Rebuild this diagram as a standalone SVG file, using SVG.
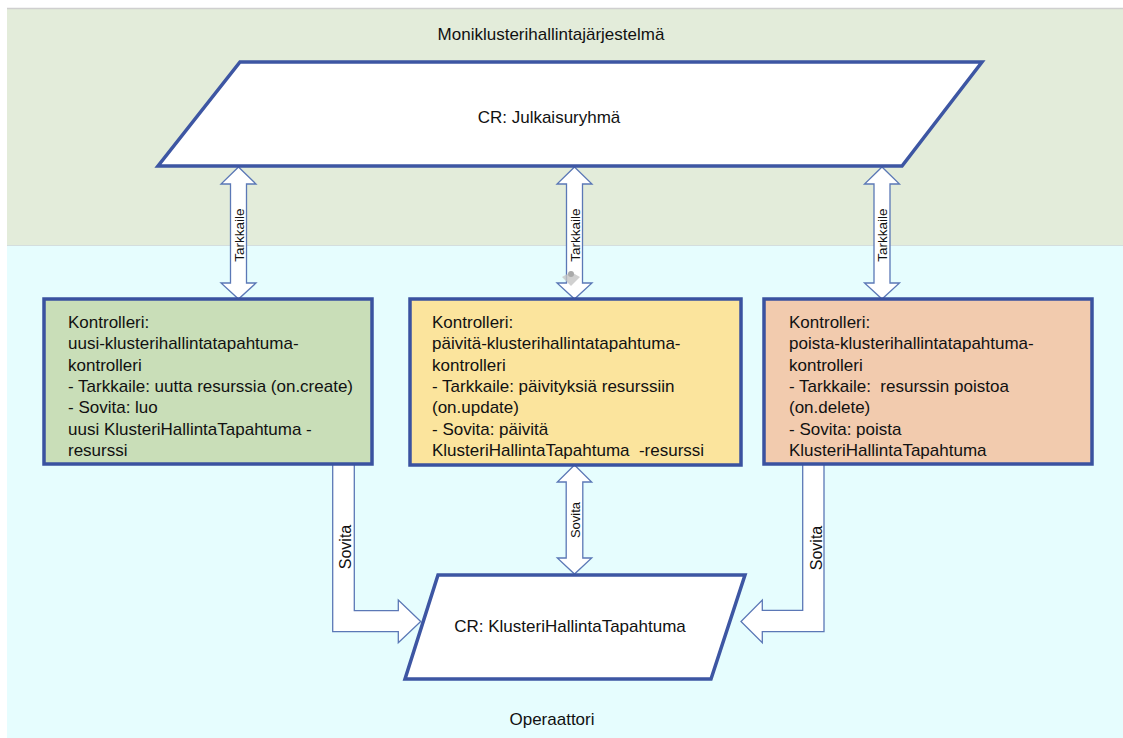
<svg xmlns="http://www.w3.org/2000/svg" width="1123" height="738" viewBox="0 0 1123 738">
<defs>
<style>
.lbl{font-family:"Liberation Sans",Arial,sans-serif;font-size:17px;fill:#111;}
.box{stroke:#3a52a0;stroke-width:3.5;}
.para{fill:#fff;stroke:#3d56a3;stroke-width:3.5;stroke-linejoin:miter;}
.arr{fill:#fff;stroke:#5b78b6;stroke-width:1.3;stroke-linejoin:miter;}
.rot{font-family:"Liberation Sans",Arial,sans-serif;fill:#111;text-anchor:middle;dominant-baseline:central;}
</style>
</defs>
<rect x="0" y="0" width="1123" height="738" fill="#ffffff"/>
<g id="zone-top">
<rect x="7" y="8" width="1116" height="237" fill="#e3ecda"/>
<line x1="7" y1="8.5" x2="1123" y2="8.5" stroke="#cfcfcf" stroke-width="1.5"/>
<text class="lbl" x="551" y="40" text-anchor="middle">Moniklusterihallintajärjestelmä</text>
</g>
<g id="zone-bottom">
<rect x="7" y="245" width="1116" height="493" fill="#e6fdfe"/>
<line x1="7" y1="245.5" x2="1123" y2="245.5" stroke="#d4dede" stroke-width="1"/>
<text class="lbl" x="552" y="725" text-anchor="middle">Operaattori</text>
</g>
<g id="connectors">
<g id="tarkkaile-1">
<polygon class="arr" points="238.5,167 256,184 246.5,184 246.5,283 256,283 238.5,299 221,283 230.5,283 230.5,184 221,184"/>
<text class="rot" font-size="13.5" transform="translate(239,235) rotate(-90)">Tarkkaile</text>
</g>
<g id="tarkkaile-2">
<polygon class="arr" points="574.5,167 592,184 582.5,184 582.5,283 592,283 574.5,299 557,283 566.5,283 566.5,184 557,184"/>
<text class="rot" font-size="13.5" transform="translate(575,235) rotate(-90)">Tarkkaile</text>
<path d="M562,277 L571,272 L580,277 L571,286 Z" fill="#c4c4c4" opacity="0.8"/>
<circle cx="571" cy="274" r="3" fill="#aaaaaa"/>
</g>
<g id="tarkkaile-3">
<polygon class="arr" points="882,167 899.5,184 890,184 890,283 899.5,283 882,299 864.5,283 874,283 874,184 864.5,184"/>
<text class="rot" font-size="13.5" transform="translate(882.5,235) rotate(-90)">Tarkkaile</text>
</g>
<g id="sovita-1">
<path class="arr" d="M332.7,464 L354.3,464 L354.3,610.7 L398.3,610.7 L398.3,600 L420.7,621.5 L398.3,642.7 L398.3,631.7 L332.7,631.7 Z"/>
<text class="rot" font-size="16" transform="translate(345,547) rotate(-90)">Sovita</text>
</g>
<g id="sovita-2">
<polygon class="arr" points="574.5,465 591.7,482 582.8,482 582.8,558 591.7,558 574.5,574 557.3,558 566.2,558 566.2,482 557.3,482"/>
<text class="rot" font-size="13" transform="translate(575,520) rotate(-90)">Sovita</text>
</g>
<g id="sovita-3">
<path class="arr" d="M802.7,464 L824,464 L824,631.7 L762.3,631.7 L762.3,642.7 L741,621.5 L762.3,600 L762.3,610.3 L802.7,610.3 Z"/>
<text class="rot" font-size="16" transform="translate(816,548) rotate(-90)">Sovita</text>
</g>
</g>
<g id="cr-julkaisuryhma">
<polygon class="para" points="240,62 982,62 902,166 158,166"/>
<text class="lbl" x="549" y="123" text-anchor="middle">CR: Julkaisuryhmä</text>
</g>
<g id="ctrl-uusi">
<rect class="box" x="44" y="299" width="328" height="165" fill="#c9deb8"/>
<text class="lbl" x="68" y="328" xml:space="preserve"><tspan x="68" dy="0">Kontrolleri:</tspan><tspan x="68" dy="21.3">uusi-klusterihallintatapahtuma-</tspan><tspan x="68" dy="21.3">kontrolleri</tspan><tspan x="68" dy="21.3">- Tarkkaile: uutta resurssia (on.create)</tspan><tspan x="68" dy="21.3">- Sovita: luo</tspan><tspan x="68" dy="21.3">uusi KlusteriHallintaTapahtuma -</tspan><tspan x="68" dy="21.3">resurssi</tspan></text>
</g>
<g id="ctrl-paivita">
<rect class="box" x="410" y="299" width="331" height="166" fill="#fbe49d"/>
<text class="lbl" x="432" y="328" xml:space="preserve"><tspan x="432" dy="0">Kontrolleri:</tspan><tspan x="432" dy="21.3">päivitä-klusterihallintatapahtuma-</tspan><tspan x="432" dy="21.3">kontrolleri</tspan><tspan x="432" dy="21.3">- Tarkkaile: päivityksiä resurssiin</tspan><tspan x="432" dy="21.3">(on.update)</tspan><tspan x="432" dy="21.3">- Sovita: päivitä</tspan><tspan x="432" dy="21.3">KlusteriHallintaTapahtuma  -resurssi</tspan></text>
</g>
<g id="ctrl-poista">
<rect class="box" x="764" y="299" width="328" height="165" fill="#f2cbae"/>
<text class="lbl" x="789" y="328" xml:space="preserve"><tspan x="789" dy="0">Kontrolleri:</tspan><tspan x="789" dy="21.3">poista-klusterihallintatapahtuma-</tspan><tspan x="789" dy="21.3">kontrolleri</tspan><tspan x="789" dy="21.3">- Tarkkaile:  resurssin poistoa</tspan><tspan x="789" dy="21.3">(on.delete)</tspan><tspan x="789" dy="21.3">- Sovita: poista</tspan><tspan x="789" dy="21.3">KlusteriHallintaTapahtuma</tspan></text>
</g>
<g id="cr-klusterihallintatapahtuma">
<polygon class="para" points="438,575 745,575 711,679 405,679"/>
<text class="lbl" x="570" y="632" text-anchor="middle">CR: KlusteriHallintaTapahtuma</text>
</g>
</svg>
